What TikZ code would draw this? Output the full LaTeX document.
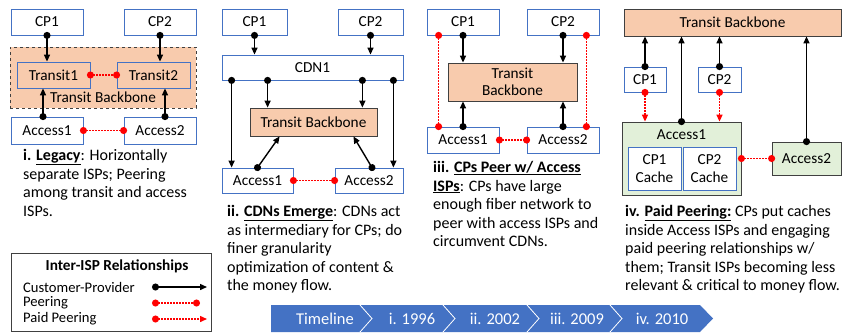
\documentclass[tikz,border=0pt]{standalone}
\usepackage{fontspec}
\setmainfont{Carlito}
\usetikzlibrary{positioning, calc, arrows.meta}

\definecolor{ispblue}{HTML}{4472C4}
\definecolor{peach}{HTML}{F8CBAD}
\definecolor{mint}{HTML}{E2F0D9}
\definecolor{boxdark}{HTML}{404040}

\tikzset{
	isp/.style={draw=ispblue, fill=white, line width=0.8pt, inner sep=0pt},
	core/.style={draw=boxdark, fill=peach, line width=0.8pt, inner sep=0pt},
	eyeball/.style={draw=boxdark, fill=mint, line width=0.8pt, inner sep=0pt},
	cprel/.style={line width=1.4pt, {Circle[length=7pt]}-{Triangle[length=7pt,width=6pt]}, shorten <=-3.5pt},
	peer/.style={red, line width=1.4pt, dash pattern=on 1.5pt off 1.5pt, {Circle[length=7pt]}-{Circle[length=7pt]}, shorten <=-3.5pt, shorten >=-3.5pt},
	paidpeer/.style={red, line width=1.4pt, dash pattern=on 1.5pt off 1.5pt, {Circle[length=7pt]}-{Triangle[length=7pt,width=6pt]}, shorten <=-3.5pt},
	caption/.style={anchor=north west, align=left, inner sep=0pt, font=\fontsize{16}{18.6}\selectfont},
	keylab/.style={anchor=west, inner sep=0pt, font=\fontsize{14.6}{17}\selectfont}
}

\begin{document}
\begin{tikzpicture}[x=1pt, y=-1pt, font=\fontsize{15.3}{18.5}\selectfont]
			\useasboundingbox (0,0) rectangle (846,335);

			% i. legacy
			\node (p1bb) at (103,77.5) [core, dashed, minimum width=186, minimum height=61] {};
			\node (p1cp1) at (47,22) [isp, minimum width=72, minimum height=26] {CP1};
			\node (p1cp2) at (160,22) [isp, minimum width=72, minimum height=26] {CP2};
			\node (p1tr1) at (53.5,75) [isp, fill=peach, minimum width=73, minimum height=26] {Transit1};
			\node (p1tr2) at (153.5,75) [isp, fill=peach, minimum width=73, minimum height=26] {Transit2};
			\node (p1bblab) at (103,97) {Transit Backbone};
			\node (p1ac1) at (47,130.5) [isp, minimum width=72, minimum height=27] {Access1};
			\node (p1ac2) at (160,130.5) [isp, minimum width=72, minimum height=27] {Access2};
			\node (p1txt) at (23,149) [caption] {\textbf{i. \underline{Legacy}}: Horizontally\\separate ISPs; Peering\\among transit and access\\ISPs.};

			\draw[cprel] (p1cp1.south) -- (p1cp1.south |- p1tr1.north);
			\draw[cprel] (p1cp2.south) -- (p1cp2.south |- p1tr2.north);
			\draw[cprel] ([xshift=-4]p1ac1.north) -- ([xshift=-4]p1ac1.north |- p1tr1.south);
			\draw[cprel] ([xshift=5]p1ac2.north) -- ([xshift=5]p1ac2.north |- p1tr2.south);
			\draw[peer] (p1tr1.east) -- (p1tr2.west);
			\draw[peer] (p1ac1.east) -- (p1ac2.west);

			% ii. CDNs
			\node (p2cp1) at (254.5,22) [isp, minimum width=65, minimum height=26] {CP1};
			\node (p2cp2) at (370.5,22) [isp, minimum width=65, minimum height=26] {CP2};
			\node (p2cdn) at (312.5,67.5) [isp, minimum width=181, minimum height=25] {CDN1};
			\node (p2tb) at (313.5,122) [core, minimum width=127, minimum height=28] {Transit Backbone};
			\node (p2ac1) at (257.5,180.5) [isp, minimum width=71, minimum height=25] {Access1};
			\node (p2ac2) at (369,180.5) [isp, minimum width=68, minimum height=25] {Access2};
			\node (p2txt) at (227,205) [caption] {\textbf{ii. \underline{CDNs Emerge}}: CDNs act\\as intermediary for CPs; do\\finer granularity\\optimization of content \&\\the money flow.};

			\draw[cprel] (p2cp1.south) -- (p2cp1.south |- p2cdn.north);
			\draw[cprel] (p2cp2.south) -- (p2cp2.south |- p2cdn.north);
			\draw[cprel] ([xshift=10]p2cdn.south west) -- ([xshift=10]p2cdn.south west |- p2ac1.north);
			\draw[cprel] ([xshift=18]p2tb.north west |- p2cdn.south) -- ([xshift=18]p2tb.north west);
			\draw[cprel] ([xshift=-15]p2tb.north east |- p2cdn.south) -- ([xshift=-15]p2tb.north east);
			\draw[cprel] ([xshift=-10]p2cdn.south east) -- ([xshift=-10]p2cdn.south east |- p2ac2.north);
			\draw[cprel] (p2ac1.north) -- ([xshift=30]p2tb.south west);
			\draw[cprel] ([xshift=3]p2ac2.north) -- ([xshift=-24]p2tb.south east);
			\draw[peer] (p2ac1.east) -- (p2ac2.west);

			% iii. CPs peer with access
			\node (p3cp1) at (463,22) [isp, minimum width=72, minimum height=26] {CP1};
			\node (p3cp2) at (563,22) [isp, minimum width=72, minimum height=26] {CP2};
			\node (p3tb) at (512.5,82) [core, minimum width=129, minimum height=38, align=center, font=\fontsize{15.3}{17.5}\selectfont] {Transit\\Backbone};
			\node (p3ac1) at (463,140) [isp, minimum width=72, minimum height=26] {Access1};
			\node (p3ac2) at (563,140) [isp, minimum width=72, minimum height=26] {Access2};
			\node (p3txt) at (433,161) [caption] {\textbf{iii. \underline{CPs Peer w/ Access}}\\\textbf{\underline{ISPs}}: CPs have large\\enough fiber network to\\peer with access ISPs and\\circumvent CDNs.};

			\draw[cprel] (p3cp1.south) -- (p3cp1.south |- p3tb.north);
			\draw[cprel] (p3cp2.south) -- (p3cp2.south |- p3tb.north);
			\draw[cprel] (p3ac1.north) -- (p3ac1.north |- p3tb.south);
			\draw[cprel] (p3ac2.north) -- (p3ac2.north |- p3tb.south);
			\draw[peer] ([xshift=12]p3cp1.south west) -- ([xshift=12]p3cp1.south west |- p3ac1.north);
			\draw[peer] ([xshift=-13]p3cp2.south east) -- ([xshift=-13]p3cp2.south east |- p3ac2.north);
			\draw[peer] (p3ac1.east) -- (p3ac2.west);

			% iv. paid peering
			\node (p4tb) at (732.5,22.5) [core, minimum width=217, minimum height=27] {Transit Backbone};
			\node (p4cp1) at (645,79.5) [isp, minimum width=42, minimum height=25] {CP1};
			\node (p4cp2) at (719.5,79.5) [isp, minimum width=43, minimum height=25] {CP2};
			\node (p4ac1) at (681.5,158.5) [eyeball, minimum width=119, minimum height=73] {};
			\node (p4ac1lab) at (681.5,135) {Access1};
			\node (p4c1) at (654.5,168.5) [isp, minimum width=53, minimum height=43, align=center, font=\fontsize{15.3}{17.5}\selectfont] {CP1\\Cache};
			\node (p4c2) at (709.5,168.5) [isp, minimum width=53, minimum height=43, align=center, font=\fontsize{15.3}{17.5}\selectfont] {CP2\\Cache};
			\node (p4ac2) at (806.5,158.5) [eyeball, minimum width=69, minimum height=33] {Access2};
			\node (p4txt) at (625,205) [caption] {\textbf{iv. \underline{Paid Peering:}} CPs put caches\\inside Access ISPs and engaging\\paid peering relationships w/\\them; Transit ISPs becoming less\\relevant \& critical to money flow.};

			\draw[cprel] (p4cp1.north) -- (p4cp1.north |- p4tb.south);
			\draw[cprel] (p4cp2.north) -- (p4cp2.north |- p4tb.south);
			\draw[cprel] (p4ac1.north) -- (p4ac1.north |- p4tb.south);
			\draw[cprel] (p4ac2.north) -- (p4ac2.north |- p4tb.south);
			\draw[paidpeer] (p4cp1.south) -- (p4cp1.south |- p4ac1.north);
			\draw[paidpeer] (p4cp2.south) -- (p4cp2.south |- p4ac1.north);
			\draw[peer] (p4ac1.east) -- (p4ac2.west);

			% legend
			\node (key) at (111,292) [draw=boxdark, line width=1pt, minimum width=200, minimum height=78] {};
			\node (keytitle) at (117,266) {\textbf{Inter-ISP Relationships}};
			\node (keycp) at (23,287) [keylab] {Customer-Provider};
			\node (keypeer) at (23,303) [keylab] {Peering};
			\node (keypaid) at (23,319) [keylab] {Paid Peering};
			\coordinate (k1a) at (152,287);
			\coordinate (k1b) at (207,287);
			\coordinate (k2a) at (152,303);
			\coordinate (k2b) at (200,303);
			\coordinate (k3a) at (152,319);
			\coordinate (k3b) at (207,319);
			\draw[cprel, shorten <=0pt] (k1a) -- (k1b);
			\draw[peer, shorten <=0pt, shorten >=0pt] (k2a) -- (k2b);
			\draw[paidpeer, shorten <=0pt] (k3a) -- (k3b);

			% timeline
			\fill[ispblue] (271,305) -- (700,305) -- (713,318.5) -- (700,332) -- (271,332) -- cycle;
			\foreach \s in {360,443,527,610}
				\draw[white, line width=0.8pt] (\s,305) -- ({\s+12},318.5) -- (\s,332);
			\node (t0) at (325,318.5) [text=white, font=\fontsize{16.5}{19}\selectfont] {Timeline};
			\node (t1) at (412,318.5) [text=white, font=\fontsize{16.5}{19}\selectfont] {i. 1996};
			\node (t2) at (495,318.5) [text=white, font=\fontsize{16.5}{19}\selectfont] {ii. 2002};
			\node (t3) at (577,318.5) [text=white, font=\fontsize{16.5}{19}\selectfont] {iii. 2009};
			\node (t4) at (662,318.5) [text=white, font=\fontsize{16.5}{19}\selectfont] {iv. 2010};
		\end{tikzpicture}
\end{document}
